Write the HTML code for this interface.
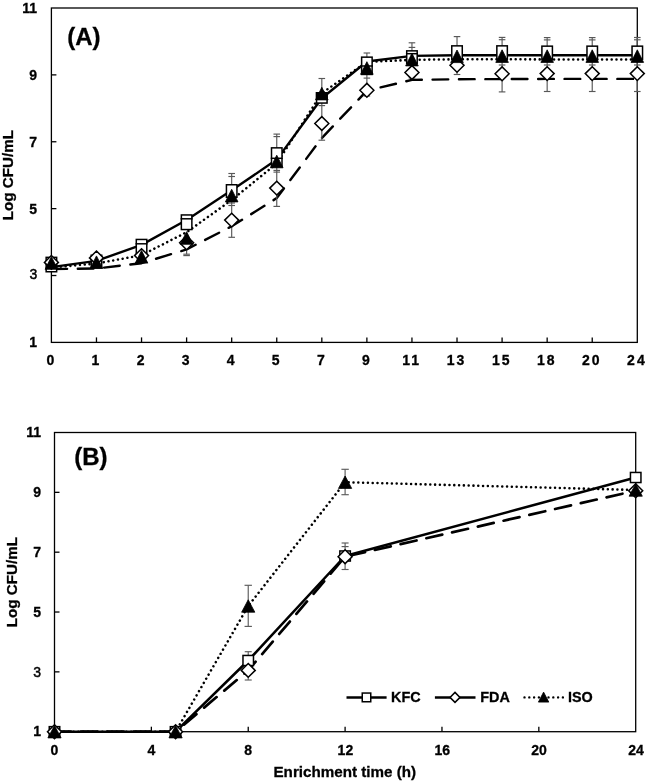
<!DOCTYPE html>
<html><head><meta charset="utf-8"><title>Growth curves</title>
<style>html,body{margin:0;padding:0;background:#fff}svg{display:block;will-change:transform}text{fill:#000}</style></head>
<body><svg width="646" height="783" viewBox="0 0 646 783">
<rect width="646" height="783" fill="#fff"/>
<rect x="51.4" y="8.0" width="585.9" height="334.4" fill="none" stroke="#000" stroke-width="1.3"/>
<line x1="96.47" y1="342.4" x2="96.47" y2="337.4" stroke="#000" stroke-width="1.3"/>
<line x1="141.54" y1="342.4" x2="141.54" y2="337.4" stroke="#000" stroke-width="1.3"/>
<line x1="186.61" y1="342.4" x2="186.61" y2="337.4" stroke="#000" stroke-width="1.3"/>
<line x1="231.68" y1="342.4" x2="231.68" y2="337.4" stroke="#000" stroke-width="1.3"/>
<line x1="276.75" y1="342.4" x2="276.75" y2="337.4" stroke="#000" stroke-width="1.3"/>
<line x1="321.82" y1="342.4" x2="321.82" y2="337.4" stroke="#000" stroke-width="1.3"/>
<line x1="366.88" y1="342.4" x2="366.88" y2="337.4" stroke="#000" stroke-width="1.3"/>
<line x1="411.95" y1="342.4" x2="411.95" y2="337.4" stroke="#000" stroke-width="1.3"/>
<line x1="457.02" y1="342.4" x2="457.02" y2="337.4" stroke="#000" stroke-width="1.3"/>
<line x1="502.09" y1="342.4" x2="502.09" y2="337.4" stroke="#000" stroke-width="1.3"/>
<line x1="547.16" y1="342.4" x2="547.16" y2="337.4" stroke="#000" stroke-width="1.3"/>
<line x1="592.23" y1="342.4" x2="592.23" y2="337.4" stroke="#000" stroke-width="1.3"/>
<line x1="51.4" y1="275.52" x2="56.4" y2="275.52" stroke="#000" stroke-width="1.3"/>
<line x1="51.4" y1="208.64" x2="56.4" y2="208.64" stroke="#000" stroke-width="1.3"/>
<line x1="51.4" y1="141.76" x2="56.4" y2="141.76" stroke="#000" stroke-width="1.3"/>
<line x1="51.4" y1="74.88" x2="56.4" y2="74.88" stroke="#000" stroke-width="1.3"/>
<text x="37.00" y="347.40" font-size="14" text-anchor="end" font-family="Liberation Sans, sans-serif" font-weight="bold" stroke="#000" stroke-width="0.3" >1</text>
<text x="37.30" y="279.02" font-size="14" text-anchor="end" font-family="Liberation Sans, sans-serif" font-weight="normal" stroke="#000" stroke-width="0.45" >3</text>
<text x="37.00" y="213.64" font-size="14" text-anchor="end" font-family="Liberation Sans, sans-serif" font-weight="bold" stroke="#000" stroke-width="0.3" >5</text>
<text x="37.00" y="146.76" font-size="14" text-anchor="end" font-family="Liberation Sans, sans-serif" font-weight="bold" stroke="#000" stroke-width="0.3" >7</text>
<text x="37.00" y="79.88" font-size="14" text-anchor="end" font-family="Liberation Sans, sans-serif" font-weight="bold" stroke="#000" stroke-width="0.3" >9</text>
<text x="37.00" y="13.00" font-size="14" text-anchor="end" font-family="Liberation Sans, sans-serif" font-weight="bold" stroke="#000" stroke-width="0.3" >11</text>
<text x="50.40" y="365.00" font-size="14" text-anchor="middle" font-family="Liberation Sans, sans-serif" font-weight="bold" stroke="#000" stroke-width="0.3" >0</text>
<text x="95.47" y="365.00" font-size="14" text-anchor="middle" font-family="Liberation Sans, sans-serif" font-weight="bold" stroke="#000" stroke-width="0.3" >1</text>
<text x="140.54" y="365.00" font-size="14" text-anchor="middle" font-family="Liberation Sans, sans-serif" font-weight="bold" stroke="#000" stroke-width="0.3" >2</text>
<text x="185.61" y="365.00" font-size="14" text-anchor="middle" font-family="Liberation Sans, sans-serif" font-weight="bold" stroke="#000" stroke-width="0.3" >3</text>
<text x="230.68" y="365.00" font-size="14" text-anchor="middle" font-family="Liberation Sans, sans-serif" font-weight="bold" stroke="#000" stroke-width="0.3" >4</text>
<text x="275.75" y="365.00" font-size="14" text-anchor="middle" font-family="Liberation Sans, sans-serif" font-weight="bold" stroke="#000" stroke-width="0.3" >5</text>
<text x="320.82" y="365.00" font-size="14" text-anchor="middle" font-family="Liberation Sans, sans-serif" font-weight="bold" stroke="#000" stroke-width="0.3" >7</text>
<text x="365.88" y="365.00" font-size="14" text-anchor="middle" font-family="Liberation Sans, sans-serif" font-weight="bold" stroke="#000" stroke-width="0.3" >9</text>
<text x="411.55" y="365.00" font-size="14" text-anchor="middle" font-family="Liberation Sans, sans-serif" font-weight="bold" stroke="#000" stroke-width="0.3" letter-spacing="2">11</text>
<text x="456.62" y="365.00" font-size="14" text-anchor="middle" font-family="Liberation Sans, sans-serif" font-weight="bold" stroke="#000" stroke-width="0.3" letter-spacing="2">13</text>
<text x="501.69" y="365.00" font-size="14" text-anchor="middle" font-family="Liberation Sans, sans-serif" font-weight="bold" stroke="#000" stroke-width="0.3" letter-spacing="2">15</text>
<text x="546.76" y="365.00" font-size="14" text-anchor="middle" font-family="Liberation Sans, sans-serif" font-weight="bold" stroke="#000" stroke-width="0.3" letter-spacing="2">18</text>
<text x="591.83" y="365.00" font-size="14" text-anchor="middle" font-family="Liberation Sans, sans-serif" font-weight="bold" stroke="#000" stroke-width="0.3" letter-spacing="2">20</text>
<text x="636.90" y="365.00" font-size="14" text-anchor="middle" font-family="Liberation Sans, sans-serif" font-weight="bold" stroke="#000" stroke-width="0.3" letter-spacing="2">24</text>
<text x="0.00" y="0.00" font-size="15.2" text-anchor="middle" font-family="Liberation Sans, sans-serif" font-weight="bold" stroke="#000" stroke-width="0.3" transform="translate(13.3 175.20) rotate(-90)">Log CFU/mL</text>
<text x="67.30" y="44.80" font-size="24" text-anchor="start" font-family="Liberation Sans, sans-serif" font-weight="bold" stroke="#000" stroke-width="0.3" >(A)</text>
<path d="M51.40 267.10L96.47 260.90L141.54 244.90L186.61 220.00L231.68 190.30L276.75 159.60L321.82 98.20L366.88 61.50L411.95 55.90L457.02 55.30L502.09 55.20L547.16 55.20L592.23 55.20L637.30 55.20" fill="none" stroke="#000" stroke-width="2.4" stroke-linejoin="round" stroke-linecap="round"/>
<path d="M51.40 269.00L96.47 268.50L141.54 263.20L186.61 249.40L231.68 226.30L276.75 198.10L321.82 138.00L366.88 90.70L411.95 79.90L457.02 79.20L502.09 79.10L547.16 78.90L592.23 78.90L637.30 78.90" fill="none" stroke="#000" stroke-width="2.4" stroke-linejoin="round" stroke-linecap="round" stroke-dasharray="15.7 10.7" stroke-dashoffset="0"/>
<path d="M51.40 267.60L96.47 263.50L141.54 255.20L186.61 232.20L231.68 200.00L276.75 163.50L321.82 93.10L366.88 62.00L411.95 59.80L457.02 59.30L502.09 59.30L547.16 59.40L592.23 59.40L637.30 59.40" fill="none" stroke="#000" stroke-width="2.55" stroke-linejoin="round" stroke-linecap="round" stroke-dasharray="0.01 4.79" stroke-dashoffset="0.13"/>
<line x1="186.61" y1="240.00" x2="186.61" y2="254.20" stroke="#585858" stroke-width="1.15"/><line x1="183.31" y1="240.00" x2="189.91" y2="240.00" stroke="#585858" stroke-width="1.15"/><line x1="183.31" y1="254.20" x2="189.91" y2="254.20" stroke="#585858" stroke-width="1.15"/>
<line x1="231.68" y1="173.50" x2="231.68" y2="237.30" stroke="#585858" stroke-width="1.15"/><line x1="228.38" y1="173.50" x2="234.98" y2="173.50" stroke="#585858" stroke-width="1.15"/><line x1="228.38" y1="237.30" x2="234.98" y2="237.30" stroke="#585858" stroke-width="1.15"/>
<line x1="276.75" y1="134.10" x2="276.75" y2="206.40" stroke="#585858" stroke-width="1.15"/><line x1="273.45" y1="134.10" x2="280.05" y2="134.10" stroke="#585858" stroke-width="1.15"/><line x1="273.45" y1="206.40" x2="280.05" y2="206.40" stroke="#585858" stroke-width="1.15"/>
<line x1="321.82" y1="78.50" x2="321.82" y2="140.20" stroke="#585858" stroke-width="1.15"/><line x1="318.52" y1="78.50" x2="325.12" y2="78.50" stroke="#585858" stroke-width="1.15"/><line x1="318.52" y1="140.20" x2="325.12" y2="140.20" stroke="#585858" stroke-width="1.15"/>
<line x1="366.88" y1="53.00" x2="366.88" y2="96.00" stroke="#585858" stroke-width="1.15"/><line x1="363.58" y1="53.00" x2="370.18" y2="53.00" stroke="#585858" stroke-width="1.15"/><line x1="363.58" y1="96.00" x2="370.18" y2="96.00" stroke="#585858" stroke-width="1.15"/>
<line x1="411.95" y1="42.80" x2="411.95" y2="78.00" stroke="#585858" stroke-width="1.15"/><line x1="408.65" y1="42.80" x2="415.25" y2="42.80" stroke="#585858" stroke-width="1.15"/><line x1="408.65" y1="78.00" x2="415.25" y2="78.00" stroke="#585858" stroke-width="1.15"/>
<line x1="457.02" y1="36.60" x2="457.02" y2="74.50" stroke="#585858" stroke-width="1.15"/><line x1="453.72" y1="36.60" x2="460.32" y2="36.60" stroke="#585858" stroke-width="1.15"/><line x1="453.72" y1="74.50" x2="460.32" y2="74.50" stroke="#585858" stroke-width="1.15"/>
<line x1="502.09" y1="37.40" x2="502.09" y2="91.90" stroke="#585858" stroke-width="1.15"/><line x1="498.79" y1="37.40" x2="505.39" y2="37.40" stroke="#585858" stroke-width="1.15"/><line x1="498.79" y1="91.90" x2="505.39" y2="91.90" stroke="#585858" stroke-width="1.15"/>
<line x1="547.16" y1="37.60" x2="547.16" y2="91.50" stroke="#585858" stroke-width="1.15"/><line x1="543.86" y1="37.60" x2="550.46" y2="37.60" stroke="#585858" stroke-width="1.15"/><line x1="543.86" y1="91.50" x2="550.46" y2="91.50" stroke="#585858" stroke-width="1.15"/>
<line x1="592.23" y1="37.60" x2="592.23" y2="91.50" stroke="#585858" stroke-width="1.15"/><line x1="588.93" y1="37.60" x2="595.53" y2="37.60" stroke="#585858" stroke-width="1.15"/><line x1="588.93" y1="91.50" x2="595.53" y2="91.50" stroke="#585858" stroke-width="1.15"/>
<line x1="637.30" y1="37.50" x2="637.30" y2="91.50" stroke="#585858" stroke-width="1.15"/><line x1="634.00" y1="37.50" x2="640.60" y2="37.50" stroke="#585858" stroke-width="1.15"/><line x1="634.00" y1="91.50" x2="640.60" y2="91.50" stroke="#585858" stroke-width="1.15"/>
<line x1="183.31" y1="255.60" x2="189.91" y2="255.60" stroke="#585858" stroke-width="1.15"/>
<line x1="228.38" y1="176.50" x2="234.98" y2="176.50" stroke="#585858" stroke-width="1.15"/>
<line x1="228.38" y1="203.00" x2="234.98" y2="203.00" stroke="#585858" stroke-width="1.15"/>
<line x1="228.38" y1="205.50" x2="234.98" y2="205.50" stroke="#585858" stroke-width="1.15"/>
<line x1="273.45" y1="136.60" x2="280.05" y2="136.60" stroke="#585858" stroke-width="1.15"/>
<line x1="273.45" y1="170.40" x2="280.05" y2="170.40" stroke="#585858" stroke-width="1.15"/>
<line x1="273.45" y1="172.10" x2="280.05" y2="172.10" stroke="#585858" stroke-width="1.15"/>
<line x1="318.52" y1="105.60" x2="325.12" y2="105.60" stroke="#585858" stroke-width="1.15"/>
<line x1="363.58" y1="78.10" x2="370.18" y2="78.10" stroke="#585858" stroke-width="1.15"/>
<line x1="408.65" y1="47.40" x2="415.25" y2="47.40" stroke="#585858" stroke-width="1.15"/>
<line x1="498.79" y1="39.70" x2="505.39" y2="39.70" stroke="#585858" stroke-width="1.15"/>
<line x1="543.86" y1="39.90" x2="550.46" y2="39.90" stroke="#585858" stroke-width="1.15"/>
<line x1="588.93" y1="39.90" x2="595.53" y2="39.90" stroke="#585858" stroke-width="1.15"/>
<line x1="634.00" y1="39.80" x2="640.60" y2="39.80" stroke="#585858" stroke-width="1.15"/>
<line x1="543.86" y1="65.00" x2="550.46" y2="65.00" stroke="#585858" stroke-width="1.15"/>
<line x1="588.93" y1="65.00" x2="595.53" y2="65.00" stroke="#585858" stroke-width="1.15"/>
<line x1="634.00" y1="65.00" x2="640.60" y2="65.00" stroke="#585858" stroke-width="1.15"/>
<line x1="498.79" y1="65.00" x2="505.39" y2="65.00" stroke="#585858" stroke-width="1.15"/>
<rect x="46.15" y="257.35" width="10.50" height="14.40" fill="#fff" stroke="#000" stroke-width="1.5"/>
<rect x="91.22" y="255.25" width="10.50" height="12.50" fill="#fff" stroke="#000" stroke-width="1.5"/>
<rect x="136.29" y="239.45" width="10.50" height="13.80" fill="#fff" stroke="#000" stroke-width="1.5"/><line x1="135.54" y1="243.80" x2="147.54" y2="243.80" stroke="#000" stroke-width="1.5"/>
<rect x="181.36" y="214.95" width="10.50" height="14.60" fill="#fff" stroke="#000" stroke-width="1.5"/><line x1="180.61" y1="218.80" x2="192.61" y2="218.80" stroke="#000" stroke-width="1.5"/>
<rect x="226.43" y="184.75" width="10.50" height="12.50" fill="#fff" stroke="#000" stroke-width="1.5"/>
<rect x="271.50" y="147.85" width="10.50" height="18.90" fill="#fff" stroke="#000" stroke-width="1.5"/><line x1="270.75" y1="158.30" x2="282.75" y2="158.30" stroke="#000" stroke-width="1.5"/>
<rect x="316.57" y="92.75" width="10.50" height="10.30" fill="#fff" stroke="#000" stroke-width="1.5"/><rect x="315.82" y="92.00" width="12.00" height="8.00" fill="#000"/>
<rect x="361.63" y="57.15" width="10.50" height="17.30" fill="#fff" stroke="#000" stroke-width="1.5"/><line x1="360.88" y1="66.00" x2="372.88" y2="66.00" stroke="#000" stroke-width="1.5"/>
<rect x="406.70" y="50.85" width="10.50" height="12.40" fill="#fff" stroke="#000" stroke-width="1.5"/><line x1="405.95" y1="53.70" x2="417.95" y2="53.70" stroke="#000" stroke-width="1.5"/>
<rect x="451.77" y="45.85" width="10.50" height="13.40" fill="#fff" stroke="#000" stroke-width="1.5"/>
<rect x="496.84" y="45.85" width="10.50" height="13.40" fill="#fff" stroke="#000" stroke-width="1.5"/>
<rect x="541.91" y="46.15" width="10.50" height="13.10" fill="#fff" stroke="#000" stroke-width="1.5"/>
<rect x="586.98" y="46.15" width="10.50" height="13.10" fill="#fff" stroke="#000" stroke-width="1.5"/>
<rect x="632.05" y="46.15" width="10.50" height="13.10" fill="#fff" stroke="#000" stroke-width="1.5"/>
<path d="M51.40 255.50L58.40 262.40L51.40 269.30L44.40 262.40Z" fill="#fff" stroke="#000" stroke-width="1.5" stroke-linejoin="miter"/>
<path d="M96.47 251.00L103.47 257.90L96.47 264.80L89.47 257.90Z" fill="#fff" stroke="#000" stroke-width="1.5" stroke-linejoin="miter"/>
<path d="M141.54 248.70L148.54 255.60L141.54 262.50L134.54 255.60Z" fill="#fff" stroke="#000" stroke-width="1.5" stroke-linejoin="miter"/>
<path d="M186.61 235.90L193.61 242.80L186.61 249.70L179.61 242.80Z" fill="#fff" stroke="#000" stroke-width="1.5" stroke-linejoin="miter"/>
<path d="M231.68 213.20L238.68 220.10L231.68 227.00L224.68 220.10Z" fill="#fff" stroke="#000" stroke-width="1.5" stroke-linejoin="miter"/>
<path d="M276.75 181.20L283.75 188.10L276.75 195.00L269.75 188.10Z" fill="#fff" stroke="#000" stroke-width="1.5" stroke-linejoin="miter"/>
<path d="M321.82 116.60L328.82 123.50L321.82 130.40L314.82 123.50Z" fill="#fff" stroke="#000" stroke-width="1.5" stroke-linejoin="miter"/>
<path d="M366.88 83.40L373.88 90.30L366.88 97.20L359.88 90.30Z" fill="#fff" stroke="#000" stroke-width="1.5" stroke-linejoin="miter"/>
<path d="M411.95 65.60L418.95 72.50L411.95 79.40L404.95 72.50Z" fill="#fff" stroke="#000" stroke-width="1.5" stroke-linejoin="miter"/>
<path d="M457.02 58.40L464.02 65.30L457.02 72.20L450.02 65.30Z" fill="#fff" stroke="#000" stroke-width="1.5" stroke-linejoin="miter"/>
<path d="M502.09 66.90L509.09 73.80L502.09 80.70L495.09 73.80Z" fill="#fff" stroke="#000" stroke-width="1.5" stroke-linejoin="miter"/>
<path d="M547.16 66.70L554.16 73.60L547.16 80.50L540.16 73.60Z" fill="#fff" stroke="#000" stroke-width="1.5" stroke-linejoin="miter"/>
<path d="M592.23 66.70L599.23 73.60L592.23 80.50L585.23 73.60Z" fill="#fff" stroke="#000" stroke-width="1.5" stroke-linejoin="miter"/>
<path d="M637.30 66.70L644.30 73.60L637.30 80.50L630.30 73.60Z" fill="#fff" stroke="#000" stroke-width="1.5" stroke-linejoin="miter"/>
<path d="M51.40 256.70L57.70 269.30L45.10 269.30Z" fill="#000" stroke="#000" stroke-width="0.8" stroke-linejoin="miter"/>
<path d="M96.47 255.90L102.77 268.50L90.17 268.50Z" fill="#000" stroke="#000" stroke-width="0.8" stroke-linejoin="miter"/>
<path d="M141.54 250.50L147.84 263.10L135.24 263.10Z" fill="#000" stroke="#000" stroke-width="0.8" stroke-linejoin="miter"/>
<path d="M186.61 231.70L192.91 244.30L180.31 244.30Z" fill="#000" stroke="#000" stroke-width="0.8" stroke-linejoin="miter"/>
<path d="M231.68 189.30L237.98 201.90L225.38 201.90Z" fill="#000" stroke="#000" stroke-width="0.8" stroke-linejoin="miter"/>
<path d="M276.75 155.20L283.05 167.80L270.45 167.80Z" fill="#000" stroke="#000" stroke-width="0.8" stroke-linejoin="miter"/>
<path d="M321.82 87.30L328.12 99.90L315.52 99.90Z" fill="#000" stroke="#000" stroke-width="0.8" stroke-linejoin="miter"/>
<path d="M366.88 61.70L373.18 74.30L360.58 74.30Z" fill="#000" stroke="#000" stroke-width="0.8" stroke-linejoin="miter"/>
<path d="M411.95 53.30L418.25 65.90L405.65 65.90Z" fill="#000" stroke="#000" stroke-width="0.8" stroke-linejoin="miter"/>
<path d="M457.02 50.00L463.32 62.60L450.72 62.60Z" fill="#000" stroke="#000" stroke-width="0.8" stroke-linejoin="miter"/>
<path d="M502.09 49.80L508.39 62.40L495.79 62.40Z" fill="#000" stroke="#000" stroke-width="0.8" stroke-linejoin="miter"/>
<path d="M547.16 49.80L553.46 62.40L540.86 62.40Z" fill="#000" stroke="#000" stroke-width="0.8" stroke-linejoin="miter"/>
<path d="M592.23 49.80L598.53 62.40L585.93 62.40Z" fill="#000" stroke="#000" stroke-width="0.8" stroke-linejoin="miter"/>
<path d="M637.30 49.80L643.60 62.40L631.00 62.40Z" fill="#000" stroke="#000" stroke-width="0.8" stroke-linejoin="miter"/>
<rect x="54.5" y="432.5" width="581.2" height="299.20000000000005" fill="none" stroke="#000" stroke-width="1.3"/>
<line x1="151.37" y1="731.7" x2="151.37" y2="726.7" stroke="#000" stroke-width="1.3"/>
<line x1="248.23" y1="731.7" x2="248.23" y2="726.7" stroke="#000" stroke-width="1.3"/>
<line x1="345.10" y1="731.7" x2="345.10" y2="726.7" stroke="#000" stroke-width="1.3"/>
<line x1="441.97" y1="731.7" x2="441.97" y2="726.7" stroke="#000" stroke-width="1.3"/>
<line x1="538.83" y1="731.7" x2="538.83" y2="726.7" stroke="#000" stroke-width="1.3"/>
<line x1="54.5" y1="671.86" x2="59.5" y2="671.86" stroke="#000" stroke-width="1.3"/>
<line x1="54.5" y1="612.02" x2="59.5" y2="612.02" stroke="#000" stroke-width="1.3"/>
<line x1="54.5" y1="552.18" x2="59.5" y2="552.18" stroke="#000" stroke-width="1.3"/>
<line x1="54.5" y1="492.34" x2="59.5" y2="492.34" stroke="#000" stroke-width="1.3"/>
<text x="41.00" y="736.30" font-size="14" text-anchor="end" font-family="Liberation Sans, sans-serif" font-weight="bold" stroke="#000" stroke-width="0.3" >1</text>
<text x="41.00" y="676.66" font-size="14" text-anchor="end" font-family="Liberation Sans, sans-serif" font-weight="normal" stroke="#000" stroke-width="0.45" >3</text>
<text x="41.00" y="616.62" font-size="14" text-anchor="end" font-family="Liberation Sans, sans-serif" font-weight="bold" stroke="#000" stroke-width="0.3" >5</text>
<text x="41.00" y="556.78" font-size="14" text-anchor="end" font-family="Liberation Sans, sans-serif" font-weight="bold" stroke="#000" stroke-width="0.3" >7</text>
<text x="41.00" y="496.94" font-size="14" text-anchor="end" font-family="Liberation Sans, sans-serif" font-weight="bold" stroke="#000" stroke-width="0.3" >9</text>
<text x="41.00" y="437.10" font-size="14" text-anchor="end" font-family="Liberation Sans, sans-serif" font-weight="bold" stroke="#000" stroke-width="0.3" >11</text>
<text x="54.50" y="754.90" font-size="14" text-anchor="middle" font-family="Liberation Sans, sans-serif" font-weight="bold" stroke="#000" stroke-width="0.3" >0</text>
<text x="151.37" y="754.90" font-size="14" text-anchor="middle" font-family="Liberation Sans, sans-serif" font-weight="bold" stroke="#000" stroke-width="0.3" >4</text>
<text x="248.23" y="754.90" font-size="14" text-anchor="middle" font-family="Liberation Sans, sans-serif" font-weight="bold" stroke="#000" stroke-width="0.3" >8</text>
<text x="345.40" y="754.90" font-size="14" text-anchor="middle" font-family="Liberation Sans, sans-serif" font-weight="bold" stroke="#000" stroke-width="0.3" >12</text>
<text x="442.27" y="754.90" font-size="14" text-anchor="middle" font-family="Liberation Sans, sans-serif" font-weight="bold" stroke="#000" stroke-width="0.3" >16</text>
<text x="539.13" y="754.90" font-size="14" text-anchor="middle" font-family="Liberation Sans, sans-serif" font-weight="bold" stroke="#000" stroke-width="0.3" >20</text>
<text x="636.00" y="754.90" font-size="14" text-anchor="middle" font-family="Liberation Sans, sans-serif" font-weight="bold" stroke="#000" stroke-width="0.3" >24</text>
<text x="0.00" y="0.00" font-size="15.2" text-anchor="middle" font-family="Liberation Sans, sans-serif" font-weight="bold" stroke="#000" stroke-width="0.3" transform="translate(16.6 582.10) rotate(-90)">Log CFU/mL</text>
<text x="344.80" y="776.80" font-size="15.2" text-anchor="middle" font-family="Liberation Sans, sans-serif" font-weight="bold" stroke="#000" stroke-width="0.3" >Enrichment time (h)</text>
<text x="74.20" y="465.20" font-size="24" text-anchor="start" font-family="Liberation Sans, sans-serif" font-weight="bold" stroke="#000" stroke-width="0.3" >(B)</text>
<path d="M54.50 731.70L175.58 731.70L248.23 660.50L345.10 556.00L635.70 477.50" fill="none" stroke="#000" stroke-width="2.55" stroke-linejoin="round" stroke-linecap="round"/>
<path d="M54.50 731.70L175.58 731.70L248.23 670.40L345.10 556.70L635.70 490.70" fill="none" stroke="#000" stroke-width="2.7" stroke-linejoin="round" stroke-linecap="round" stroke-dasharray="16.35 10.05" stroke-dashoffset="0"/>
<path d="M54.50 731.70L175.58 731.70L248.23 606.00L345.10 482.20L635.70 490.00" fill="none" stroke="#000" stroke-width="2.55" stroke-linejoin="round" stroke-linecap="round" stroke-dasharray="0.01 4.79" stroke-dashoffset="0.13"/>
<line x1="248.23" y1="651.70" x2="248.23" y2="669.00" stroke="#5c5c5c" stroke-width="1.15"/><line x1="244.73" y1="651.70" x2="251.73" y2="651.70" stroke="#5c5c5c" stroke-width="1.15"/><line x1="244.73" y1="669.00" x2="251.73" y2="669.00" stroke="#5c5c5c" stroke-width="1.15"/>
<line x1="248.23" y1="661.00" x2="248.23" y2="680.00" stroke="#5c5c5c" stroke-width="1.15"/><line x1="244.73" y1="661.00" x2="251.73" y2="661.00" stroke="#5c5c5c" stroke-width="1.15"/><line x1="244.73" y1="680.00" x2="251.73" y2="680.00" stroke="#5c5c5c" stroke-width="1.15"/>
<line x1="248.23" y1="585.30" x2="248.23" y2="626.40" stroke="#5c5c5c" stroke-width="1.15"/><line x1="244.53" y1="585.30" x2="251.93" y2="585.30" stroke="#5c5c5c" stroke-width="1.15"/><line x1="244.53" y1="626.40" x2="251.93" y2="626.40" stroke="#5c5c5c" stroke-width="1.15"/>
<line x1="345.10" y1="543.00" x2="345.10" y2="569.50" stroke="#5c5c5c" stroke-width="1.15"/><line x1="341.60" y1="543.00" x2="348.60" y2="543.00" stroke="#5c5c5c" stroke-width="1.15"/><line x1="341.60" y1="569.50" x2="348.60" y2="569.50" stroke="#5c5c5c" stroke-width="1.15"/>
<line x1="341.60" y1="546.60" x2="348.60" y2="546.60" stroke="#5c5c5c" stroke-width="1.15"/>
<line x1="345.10" y1="469.30" x2="345.10" y2="494.70" stroke="#5c5c5c" stroke-width="1.15"/><line x1="341.40" y1="469.30" x2="348.80" y2="469.30" stroke="#5c5c5c" stroke-width="1.15"/><line x1="341.40" y1="494.70" x2="348.80" y2="494.70" stroke="#5c5c5c" stroke-width="1.15"/>
<rect x="49.25" y="726.65" width="10.50" height="10.10" fill="#fff" stroke="#000" stroke-width="1.5"/>
<rect x="170.33" y="726.65" width="10.50" height="10.10" fill="#fff" stroke="#000" stroke-width="1.5"/>
<rect x="242.98" y="655.45" width="10.50" height="10.10" fill="#fff" stroke="#000" stroke-width="1.5"/>
<rect x="339.85" y="550.95" width="10.50" height="10.10" fill="#fff" stroke="#000" stroke-width="1.5"/>
<rect x="630.45" y="472.45" width="10.50" height="10.10" fill="#fff" stroke="#000" stroke-width="1.5"/>
<path d="M54.50 724.80L61.50 731.70L54.50 738.60L47.50 731.70Z" fill="#fff" stroke="#000" stroke-width="1.5" stroke-linejoin="miter"/>
<path d="M175.58 724.80L182.58 731.70L175.58 738.60L168.58 731.70Z" fill="#fff" stroke="#000" stroke-width="1.5" stroke-linejoin="miter"/>
<path d="M248.23 663.50L255.23 670.40L248.23 677.30L241.23 670.40Z" fill="#fff" stroke="#000" stroke-width="1.5" stroke-linejoin="miter"/>
<path d="M345.10 549.80L352.10 556.70L345.10 563.60L338.10 556.70Z" fill="#fff" stroke="#000" stroke-width="1.5" stroke-linejoin="miter"/>
<path d="M635.70 483.80L642.70 490.70L635.70 497.60L628.70 490.70Z" fill="#fff" stroke="#000" stroke-width="1.5" stroke-linejoin="miter"/>
<path d="M54.50 725.50L61.10 737.90L47.90 737.90Z" fill="#000" stroke="#000" stroke-width="0.8" stroke-linejoin="miter"/>
<path d="M175.58 725.50L182.18 737.90L168.98 737.90Z" fill="#000" stroke="#000" stroke-width="0.8" stroke-linejoin="miter"/>
<path d="M248.23 599.80L254.83 612.20L241.63 612.20Z" fill="#000" stroke="#000" stroke-width="0.8" stroke-linejoin="miter"/>
<path d="M345.10 476.00L351.70 488.40L338.50 488.40Z" fill="#000" stroke="#000" stroke-width="0.8" stroke-linejoin="miter"/>
<path d="M635.70 483.80L642.30 496.20L629.10 496.20Z" fill="#000" stroke="#000" stroke-width="0.8" stroke-linejoin="miter"/>
<line x1="346.5" y1="697.4" x2="386.6" y2="697.4" stroke="#000" stroke-width="2.5"/>
<rect x="362.25" y="693.05" width="8.50" height="8.70" fill="#fff" stroke="#000" stroke-width="1.5"/>
<text x="391.00" y="702.30" font-size="14.4" text-anchor="start" font-family="Liberation Sans, sans-serif" font-weight="bold" stroke="#000" stroke-width="0.3" >KFC</text>
<line x1="434.9" y1="697.4" x2="475.5" y2="697.4" stroke="#000" stroke-width="2.5"/>
<path d="M455.00 692.40L460.00 697.40L455.00 702.40L450.00 697.40Z" fill="#fff" stroke="#000" stroke-width="1.5" stroke-linejoin="miter"/>
<text x="480.30" y="702.30" font-size="14.4" text-anchor="start" font-family="Liberation Sans, sans-serif" font-weight="bold" stroke="#000" stroke-width="0.3" >FDA</text>
<line x1="524.5" y1="697.4" x2="563.5" y2="697.4" stroke="#000" stroke-width="2.4" stroke-linecap="round" stroke-dasharray="0.01 4.79"/>
<path d="M543.60 692.10L548.80 702.10L538.40 702.10Z" fill="#000" stroke="#000" stroke-width="0.8" stroke-linejoin="miter"/>
<text x="568.00" y="702.30" font-size="14.4" text-anchor="start" font-family="Liberation Sans, sans-serif" font-weight="bold" stroke="#000" stroke-width="0.3" >ISO</text>
</svg></body></html>
